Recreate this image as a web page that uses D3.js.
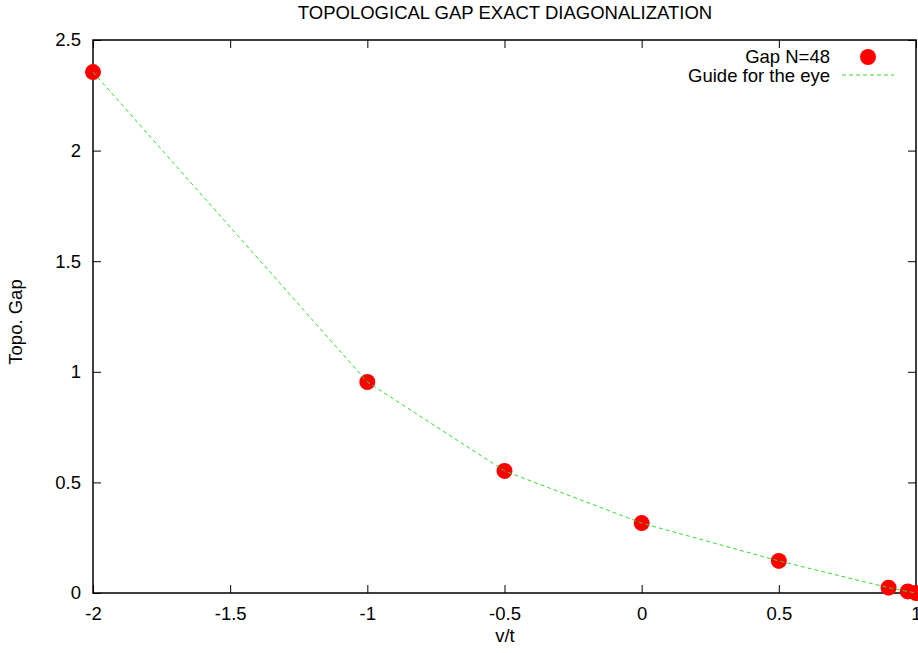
<!DOCTYPE html>
<html>
<head>
<meta charset="utf-8">
<script src="https://cdn.jsdelivr.net/npm/d3@7"></script>
<style>
  body { margin: 0; background: #fff; }
  text { font-family: "Liberation Sans", Arial, sans-serif; fill: #000; }
</style>
</head>
<body>
<div id="chart"></div>
<script>
// values
const vt = [-2, -1, -0.5, 0, 0.5, 0.9, 0.97, 1.0];
const gap = [2.355, 0.954, 0.552, 0.316, 0.145, 0.024, 0.007, 0.0];
const xTicks = [-2, -1.5, -1, -0.5, 0, 0.5, 1];
const yTicks = [0, 0.5, 1, 1.5, 2, 2.5];

const W = 918, H = 653;
const margin = { top: 40, right: 2, bottom: 60, left: 93 };
const width = W - margin.left - margin.right;
const height = H - margin.top - margin.bottom;
const fs = "18.5px";

const svg = d3.select("#chart").append("svg")
  .attr("width", W).attr("height", H);

const g = svg.append("g").attr("transform", `translate(${margin.left},${margin.top})`);

const x = d3.scaleLinear().domain([-2, 1]).range([0, width]);
const y = d3.scaleLinear().domain([0, 2.5]).range([height, 0]);

// axes with inward ticks, mirrored on top/right (gnuplot style)
const tickLen = 8;
const fmt = d => String(d);
g.append("g").attr("transform", `translate(0,${height})`)
  .call(d3.axisBottom(x).tickValues(xTicks).tickSize(-tickLen).tickPadding(14).tickFormat(fmt))
  .call(a => a.select(".domain").remove());
g.append("g")
  .call(d3.axisTop(x).tickValues(xTicks).tickSize(-tickLen).tickFormat(""))
  .call(a => a.select(".domain").remove());
g.append("g")
  .call(d3.axisLeft(y).tickValues(yTicks).tickSize(-tickLen).tickPadding(12).tickFormat(fmt))
  .call(a => a.select(".domain").remove());
g.append("g").attr("transform", `translate(${width},0)`)
  .call(d3.axisRight(y).tickValues(yTicks).tickSize(-tickLen).tickFormat(""))
  .call(a => a.select(".domain").remove());

g.selectAll(".tick line").attr("stroke", "#000").attr("stroke-width", 1);
g.selectAll(".tick text").style("font-size", fs).style("font-family", "Liberation Sans, Arial, sans-serif");

g.append("rect")
  .attr("width", width).attr("height", height)
  .attr("fill", "none").attr("stroke", "#000").attr("stroke-width", 1.5);

const pts = vt.map((v, i) => ({ x: v, y: gap[i] }));

const line = d3.line().x(d => x(d.x)).y(d => y(d.y));

g.selectAll(".pt").data(pts).enter().append("circle")
  .attr("class", "pt")
  .attr("cx", d => x(d.x)).attr("cy", d => y(d.y))
  .attr("r", 8)
  .attr("fill", "#ff0000");

// guide line drawn over the points
g.append("path").datum(pts)
  .attr("d", line)
  .attr("fill", "none")
  .attr("stroke", "#33dd33")
  .attr("stroke-width", 1)
  .attr("stroke-dasharray", "4,3");

// legend
const lg = svg.append("g");
lg.append("text").attr("x", 830).attr("y", 63).attr("text-anchor", "end")
  .style("font-size", fs).text("Gap N=48");
lg.append("circle").attr("cx", 868).attr("cy", 57).attr("r", 8).attr("fill", "#ff0000");
lg.append("text").attr("x", 830).attr("y", 82).attr("text-anchor", "end")
  .style("font-size", fs).text("Guide for the eye");
lg.append("line").attr("x1", 842).attr("x2", 894).attr("y1", 75).attr("y2", 75)
  .attr("stroke", "#33dd33").attr("stroke-width", 1).attr("stroke-dasharray", "4,3");

// titles
svg.append("text").attr("x", 505).attr("y", 19).attr("text-anchor", "middle")
  .style("font-size", fs).text("TOPOLOGICAL GAP EXACT DIAGONALIZATION");
svg.append("text").attr("x", 505).attr("y", 642).attr("text-anchor", "middle")
  .style("font-size", fs).text("v/t");
svg.append("text").attr("transform", "translate(22,322) rotate(-90)").attr("text-anchor", "middle")
  .style("font-size", fs).text("Topo. Gap");
</script>
</body>
</html>
